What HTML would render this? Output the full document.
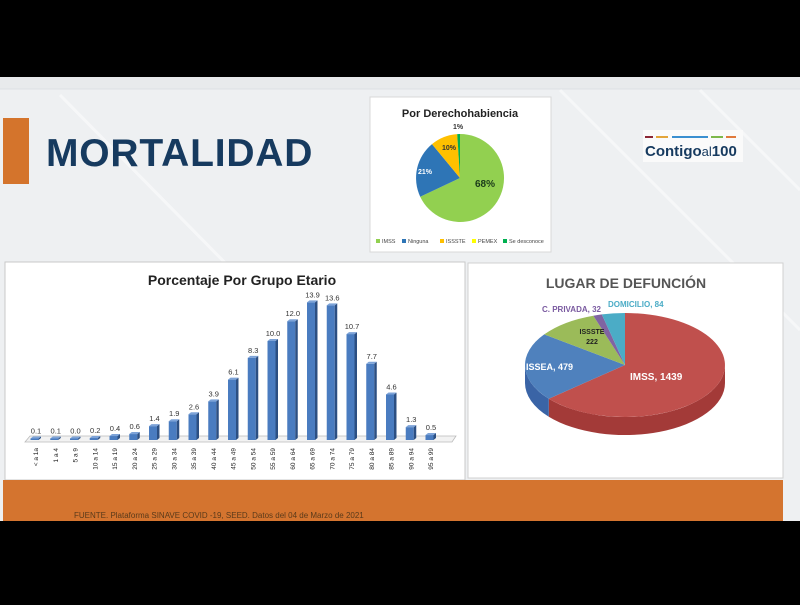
<!DOCTYPE html>
<html><head><meta charset="utf-8"><style>
body{margin:0;width:800px;height:600px;background:#000;overflow:hidden;font-family:"Liberation Sans",sans-serif}
</style></head><body>
<svg width="800" height="600" xmlns="http://www.w3.org/2000/svg" font-family="Liberation Sans, sans-serif">
<rect x="0" y="0" width="800" height="600" fill="#000"/>
<rect x="0" y="77" width="800" height="444" fill="#eef0f2"/>
<rect x="0" y="77" width="800" height="12" fill="#e8eaec"/>
<line x1="0" y1="89" x2="800" y2="89" stroke="#dde0e4"/>
<g stroke="#ffffff" stroke-width="3" opacity="0.5">
<line x1="60" y1="95" x2="360" y2="400"/><line x1="560" y1="90" x2="800" y2="330"/><line x1="700" y1="90" x2="800" y2="190"/>
</g>
<rect x="3" y="118" width="26" height="66" fill="#d4742c"/>
<text x="46" y="166" font-size="39" font-weight="bold" fill="#163a5f" letter-spacing="0.8">MORTALIDAD</text>
<!-- logo -->
<rect x="643" y="130" width="100" height="32" fill="#fafafa"/>
<rect x="645" y="136" width="8" height="2" fill="#8b2635"/><rect x="656" y="136" width="12" height="2" fill="#e3a53a"/><rect x="672" y="136" width="36" height="2" fill="#3a8fd0"/><rect x="711" y="136" width="12" height="2" fill="#7db84a"/><rect x="726" y="136" width="10" height="2" fill="#e07a3c"/>
<text x="645" y="156" font-size="15" font-weight="bold" fill="#163a5f">Contigo<tspan font-weight="normal" font-size="13">al</tspan>100</text>
<!-- pie 1 box -->
<rect x="370" y="97" width="181" height="155" fill="#fff" stroke="#d8d8d8"/>
<text x="460" y="117" font-size="11" font-weight="bold" text-anchor="middle" fill="#222">Por Derechohabiencia</text>
<path d="M460,178 L460,134 A44,44 0 1 1 420.2,196.7 Z" fill="#92d050"/>
<path d="M460,178 L420.2,196.7 A44,44 0 0 1 432,144.1 Z" fill="#2e75b6"/>
<path d="M460,178 L432,144.1 A44,44 0 0 1 457.2,134.1 Z" fill="#ffc000"/>
<path d="M460,178 L457.2,134.1 A44,44 0 0 1 460,134 Z" fill="#00b050"/>
<text x="475" y="187" font-size="10" font-weight="bold" fill="#1a3a1a">68%</text>
<text x="418" y="174" font-size="7" font-weight="bold" fill="#fff">21%</text>
<text x="442" y="150" font-size="7" font-weight="bold" fill="#333">10%</text>
<text x="458" y="129" font-size="7" font-weight="bold" fill="#333" text-anchor="middle">1%</text>
<g font-size="5.5" fill="#444">
<rect x="376" y="239" width="4" height="4" fill="#92d050"/><text x="382" y="243">IMSS</text>
<rect x="402" y="239" width="4" height="4" fill="#2e75b6"/><text x="408" y="243">Ninguna</text>
<rect x="440" y="239" width="4" height="4" fill="#ffc000"/><text x="446" y="243">ISSSTE</text>
<rect x="472" y="239" width="4" height="4" fill="#ffff00"/><text x="478" y="243">PEMEX</text>
<rect x="503" y="239" width="4" height="4" fill="#00b050"/><text x="509" y="243">Se desconoce</text>
</g>
<!-- bar chart -->
<rect x="5" y="262" width="460" height="218" fill="#fff" stroke="#c8c8c8"/>
<text x="242" y="285" font-size="14" font-weight="bold" text-anchor="middle" fill="#222">Porcentaje Por Grupo Etario</text>
<polygon points="25,442 452,442 456,436 30,436" fill="#f2f2f2" stroke="#bbb" stroke-width="0.8"/>
<g id="bars"></g>
<!-- right pie -->
<rect x="468" y="263" width="315" height="215" fill="#fff" stroke="#d0d0d0"/>
<text x="626" y="288" font-size="14" font-weight="bold" text-anchor="middle" fill="#555">LUGAR DE DEFUNCIÓN</text>
<path d="M725,365 A100,52 0 0 1 548.8,398.7 L548.8,416.7 A100,52 0 0 0 725,383 Z" fill="#a33a38"/>
<path d="M548.8,398.7 A100,52 0 0 1 525,365 L525,383 A100,52 0 0 0 548.8,416.7 Z" fill="#3a64a6"/>
<path d="M625,365 L625,313 A100,52 0 1 1 548.8,398.7 Z" fill="#c0504d"/>
<path d="M625,365 L548.8,398.7 A100,52 0 0 1 544.2,334.4 Z" fill="#4f81bd"/>
<path d="M625,365 L544.2,334.4 A100,52 0 0 1 593.3,315.7 Z" fill="#9bbb59"/>
<path d="M625,365 L593.3,315.7 A100,52 0 0 1 601.8,314.4 Z" fill="#8064a2"/>
<path d="M625,365 L601.8,314.4 A100,52 0 0 1 625,313 Z" fill="#4bacc6"/>
<text x="630" y="380" font-size="10" fill="#fff" font-weight="bold">IMSS, 1439</text>
<text x="526" y="370" font-size="9" fill="#fff" font-weight="bold">ISSEA, 479</text>
<text x="592" y="334" font-size="7" fill="#222" font-weight="bold" text-anchor="middle">ISSSTE</text>
<text x="592" y="344" font-size="7" fill="#222" font-weight="bold" text-anchor="middle">222</text>
<text x="542" y="312" font-size="8" fill="#7a5aa0" font-weight="bold">C. PRIVADA, 32</text>
<text x="608" y="307" font-size="8" fill="#4bacc6" font-weight="bold">DOMICILIO, 84</text>
<!-- bottom band -->
<rect x="3" y="480" width="780" height="41" fill="#d4742f"/>
<text x="74" y="518" font-size="8" fill="#5a3a1a">FUENTE. Plataforma SINAVE COVID -19, SEED. Datos del 04 de Marzo de 2021</text>
<rect x="0" y="521" width="800" height="79" fill="#000"/>
</svg>
<script>
var v=[0.1,0.1,0.0,0.2,0.4,0.6,1.4,1.9,2.6,3.9,6.1,8.3,10.0,12.0,13.9,13.6,10.7,7.7,4.6,1.3,0.5];
var l=["< a 1a","1 a 4","5 a 9","10 a 14","15 a 19","20 a 24","25 a 29","30 a 34","35 a 39","40 a 44","45 a 49","50 a 54","55 a 59","60 a 64","65 a 69","70 a 74","75 a 79","80 a 84","85 a 89","90 a 94","95 a 99"];
var s="";
for(var i=0;i<21;i++){var cx=35+i*19.75,h=Math.max(v[i]*9.9,1.5),b=440,t=b-h;
s+='<rect x="'+(cx-4.5)+'" y="'+t+'" width="8" height="'+h+'" fill="#4a7cc0"/>';
s+='<polygon points="'+(cx+3.5)+','+t+' '+(cx+6)+','+(t-2)+' '+(cx+6)+','+(b-2)+' '+(cx+3.5)+','+b+'" fill="#2c4f82"/>';
s+='<polygon points="'+(cx-4.5)+','+t+' '+(cx-2)+','+(t-2)+' '+(cx+6)+','+(t-2)+' '+(cx+3.5)+','+t+'" fill="#7da3d8"/>';
s+='<text x="'+(cx+1)+'" y="'+(t-5)+'" font-size="7.5" fill="#333" text-anchor="middle">'+v[i].toFixed(1)+'</text>';
s+='<text transform="translate('+(cx+3)+',448) rotate(-90)" font-size="6.5" fill="#222" text-anchor="end">'+l[i].replace('<','&lt;')+'</text>';}
document.getElementById('bars').innerHTML=s;
</script>
</body></html>
